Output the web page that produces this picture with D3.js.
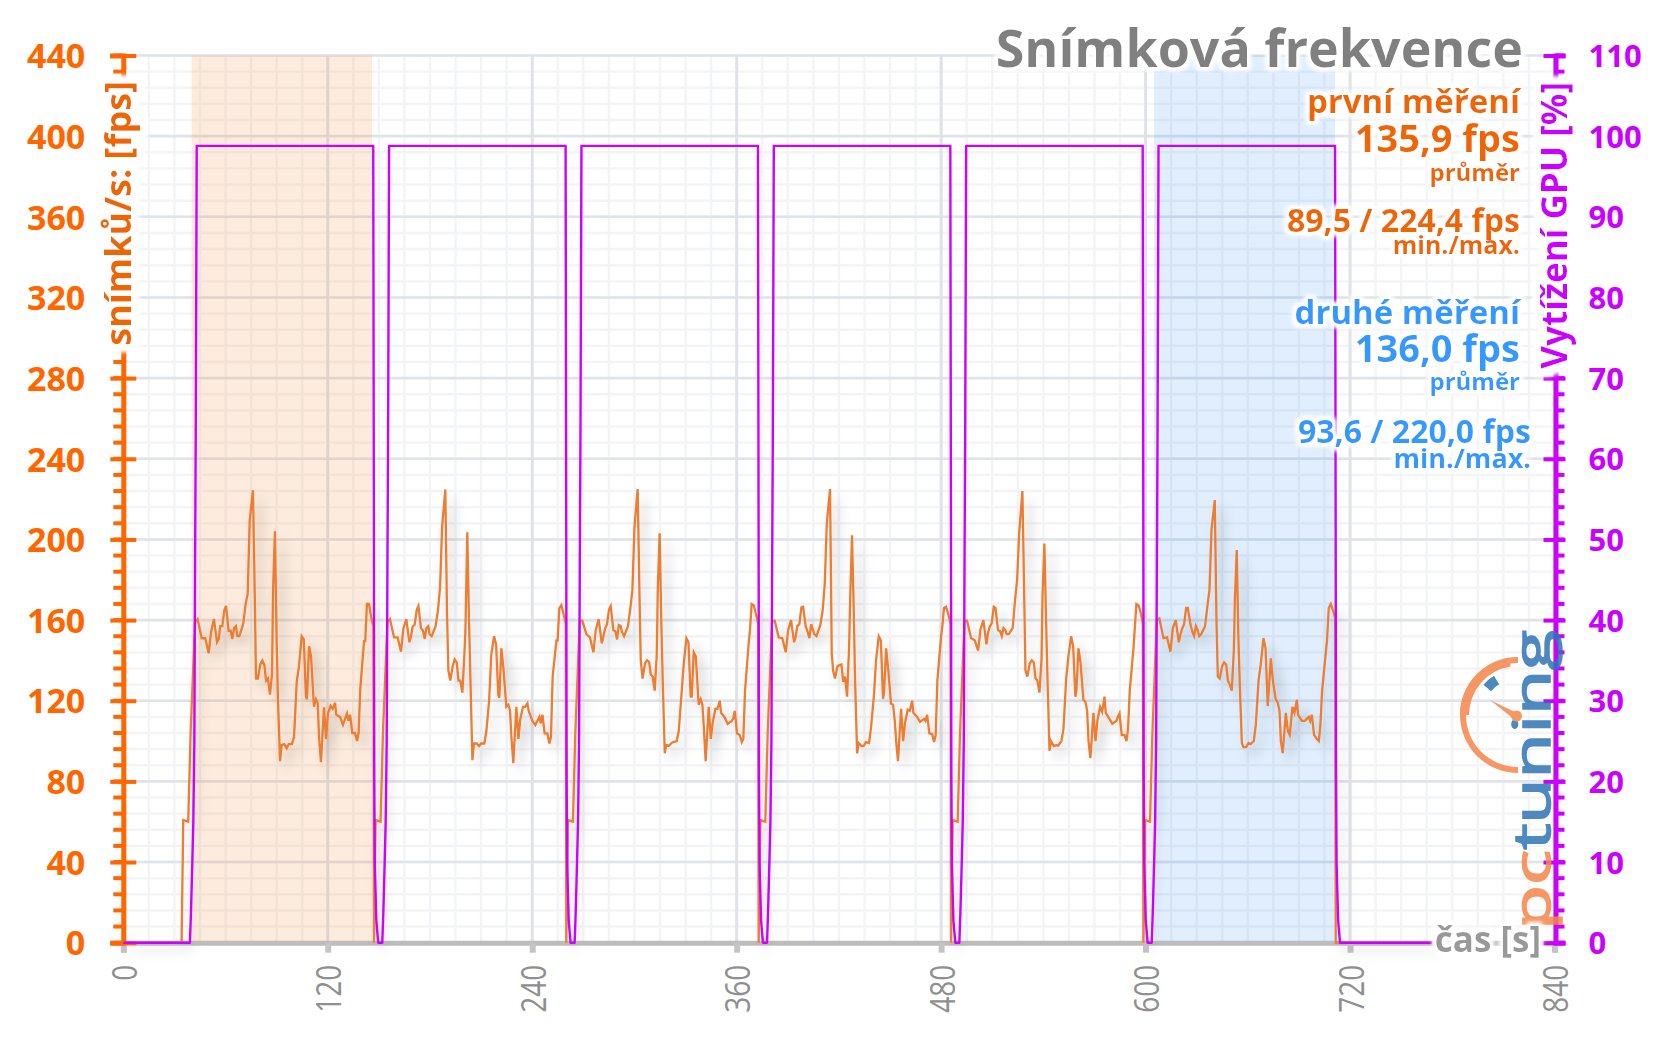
<!DOCTYPE html>
<meta charset="utf-8">
<title>Snímková frekvence</title>
<style>
    html, body { margin: 0; background: #fff; }
    svg { display: block; }
    text { font-family: "Open Sans", sans-serif; }
</style>
<svg width="1656" height="1044"></svg>
<script src="https://cdnjs.cloudflare.com/ajax/libs/d3/7.9.0/d3.min.js"></script>
<script>
    // time of each fps reading inside the first run [s]
    const runTimes = [
        42.1, 43.6, 46.0, 48.1, 50.1, 51.5, 53.2, 55.0, 56.0, 56.9,
        58.1, 59.3, 60.3, 61.8, 63.0, 64.0, 65.0, 66.1, 66.9, 68.1,
        70.4, 71.8, 73.0, 74.2, 76.1, 77.1, 77.9, 79.0, 80.4, 81.6,
        82.8, 83.8, 84.9, 86.1, 87.3, 87.9, 89.0, 90.0, 90.8, 92.0,
        92.9, 94.5, 95.9, 97.1, 99.0, 100.2, 101.8, 103.1, 104.7, 105.9,
        107.2, 107.8, 109.0, 110.2, 111.9, 113.1, 114.1, 114.9, 116.0, 117.8,
        119.0, 120.1, 121.7, 122.9, 124.3, 125.0, 127.2, 128.9, 131.3, 132.1,
        133.1, 134.4, 136.0, 137.2, 138.1, 139.1, 141.3, 142.0, 143.0, 144.2,
        145.8, 146.8
    ];
    const fpsRun1 = [
        159, 160.5, 151, 151, 143.5, 154, 160.5, 149, 150.5, 157,
        157, 165, 167, 154.7, 154.7, 150.6, 156, 157, 152, 152,
        158, 168, 173, 209.6, 224.4, 175, 131, 131, 138, 140,
        137.7, 130, 131, 123, 133.5, 175, 204, 150, 120, 90,
        98, 98.5, 96.4, 98.5, 98.5, 102, 129.5, 137, 152, 150.6,
        122, 120.7, 147, 142, 117, 120.7, 118.7, 102, 89.5, 116.7,
        101, 113.7, 117.5, 116, 119, 113, 112, 108, 113.7, 110,
        113, 104, 104, 100, 104, 126, 149.6, 149.6, 168, 168,
        160, 157
    ];
    const fpsRun2 = [
        159, 160.5, 151.4, 151.4, 144.3, 156, 160.5, 149, 152, 156.7,
        157.7, 165, 167, 156, 154.7, 150.6, 156, 157, 153, 152,
        157, 165, 176, 206, 224.8, 163, 135, 130, 137, 140.5,
        139, 130, 130, 124, 143, 155, 203.6, 160, 132, 90.5,
        98.8, 98.8, 97.5, 98.8, 98.8, 105, 120, 143, 152, 148,
        122.8, 121.5, 146, 136, 117, 118, 115, 102, 89, 117,
        101, 111, 117, 117, 118.7, 115, 110, 108, 112, 108.8,
        113, 103.8, 103.8, 98.8, 102, 132, 149.8, 149.8, 165.8, 167.4,
        162, 158
    ];
    const fpsRun3 = [
        159.7, 159.7, 153, 151.4, 144, 155, 160.5, 148.4, 152, 155.5,
        158, 165.3, 167, 155, 154.5, 150.4, 157.5, 157, 154, 152,
        157, 165.8, 175, 206, 225, 175, 140, 131, 138.5, 140,
        139.3, 133, 132, 125, 143, 175, 203, 158, 130, 94,
        98, 97.7, 99, 99.5, 100, 105, 123, 138, 151, 149,
        122, 122, 144, 142, 118, 120.8, 118, 107, 90, 117,
        101, 109, 116, 116, 120, 114, 111.7, 108.5, 110, 111,
        115, 103.8, 103, 99.5, 101, 125, 149, 155, 168, 167.4,
        162, 158
    ];
    const fpsRun4 = [
        159.7, 159.7, 151.4, 151, 144, 155, 160, 149, 152, 157,
        158, 166.3, 166.6, 157, 154, 151, 158, 155, 153, 152,
        157.5, 165, 178, 208, 225, 143.5, 135, 131, 137, 137.7,
        138, 129.4, 132, 122, 146.8, 170, 202, 165, 130, 93.9,
        99, 97.5, 97.7, 99.5, 99, 107, 122, 140, 152, 150,
        121, 124, 146, 136, 118.5, 118, 110, 100, 90, 116,
        100, 109, 115.5, 115, 120, 114, 112, 109.5, 111, 110,
        113, 103.8, 103.5, 99.5, 103, 130, 152, 156.7, 166, 166.6,
        162, 158
    ];
    const fpsRun5 = [
        159.7, 159.7, 151, 150, 144.8, 155.5, 160, 148, 154, 156.5,
        158.5, 166.6, 166, 155, 154.5, 152, 156, 155, 153, 153,
        156, 170, 180, 203, 224, 175, 135, 132, 138.5, 140,
        139, 131, 130, 124, 140, 172, 198, 160, 132, 95.2,
        100, 97.5, 98, 97.7, 100, 106, 131, 142, 152, 147,
        122, 125, 146, 139, 120.5, 119.5, 115, 100, 91.5, 114,
        100, 110, 117, 114.5, 122, 114, 111, 108.5, 110, 112,
        113.7, 103, 103, 100, 106, 125, 146, 155, 168, 167.4,
        163, 158
    ];
    const fpsRun6 = [
        160, 160.8, 151, 151.4, 144.3, 156, 160, 149, 153, 155.5,
        158, 166, 166, 158, 154, 152, 157, 155, 152, 153,
        157, 167, 175, 205, 219.5, 160, 132, 131, 137, 139,
        138, 130, 128, 125, 145, 170, 194.7, 150, 128, 99,
        97, 97, 99, 98.5, 100, 108, 130, 138, 151, 146,
        117.4, 125, 141, 130, 120.7, 119, 115, 100, 94, 114,
        105, 103, 117, 114, 120.5, 113, 110, 110, 112, 110,
        113, 103, 101, 100, 108, 125, 144, 150, 166, 168,
        164, 161
    ];
    const fpsRuns = [fpsRun1, fpsRun2, fpsRun3, fpsRun4, fpsRun5, fpsRun6];

    // start-up of a run: fps climbs to 60, holds, then climbs again
    const leadInTimes = [34.2, 35.2, 38.1, 39.5];
    const leadInFps = [0, 60.8, 60, 104];

    const runPeriod = 112.9;
    const runIndex = [0, 1, 2, 3, 4, 5];
    const timeEnd = 768;

    // GPU load edges of the first run
    const gpuRiseTimes = [39.1, 39.7, 40.5, 41.1, 41.7, 42.1, 42.5, 43.1];
    const gpuRiseLoad = [0, 3.6, 9.9, 15, 25, 45.8, 62, 98.8];
    const gpuFallTimes = [146.7, 147.0, 147.3, 147.6, 148.5, 149.6];
    const gpuFallLoad = [98.8, 60, 21, 9.9, 2.8, 0];

    const shadeBands = [[40.1, 146], [605, 711.2]];
    const shadeFills = ["#f58a2e", "#3f97f0"];

    const fpsTicks = d3.range(0, 441, 40);
    const fpsMinor = d3.range(0, 441, 8);
    const gpuTicks = d3.range(0, 111, 10);
    const gpuMinor = d3.range(0, 111, 2);
    const timeTicks = d3.range(0, 841, 120);
    const timeMinor = d3.range(0, 841, 15);

    const svg = d3.select("svg");
    const orange = "#ff6600", textOrange = "#ee6600", purple = "#cc00ff", blue = "#3399ff";

    const x = d3.scaleLinear().domain([0, 840]).range([123.3, 1554.5]);
    const y = d3.scaleLinear().domain([0, 440]).range([942.7, 55.5]);
    const yGpu = d3.scaleLinear().domain([0, 110]).range([942.7, 55.5]);

    // filters: soft line shadow and white text halo
    const defs = svg.append("defs");
    const shadow = defs.append("filter").attr("id", "shadow")
        .attr("filterUnits", "userSpaceOnUse")
        .attr("x", 0).attr("y", 0).attr("width", 1656).attr("height", 1044);
    shadow.append("feDropShadow")
        .attr("dx", 7).attr("dy", 7).attr("stdDeviation", 6)
        .attr("flood-color", "#000").attr("flood-opacity", 0.2);

    function addHalo(id, radius, blur) {
        const halo = defs.append("filter").attr("id", id)
            .attr("filterUnits", "userSpaceOnUse")
            .attr("x", 0).attr("y", 0).attr("width", 1656).attr("height", 1044);
        halo.append("feMorphology").attr("in", "SourceAlpha").attr("operator", "dilate").attr("radius", radius).attr("result", "fat");
        halo.append("feGaussianBlur").attr("in", "fat").attr("stdDeviation", blur).attr("result", "soft");
        halo.append("feFlood").attr("flood-color", "#fff");
        halo.append("feComposite").attr("in2", "soft").attr("operator", "in").attr("result", "white");
        const merge = halo.append("feMerge");
        merge.append("feMergeNode").attr("in", "white");
        merge.append("feMergeNode").attr("in", "white");
        merge.append("feMergeNode").attr("in", "SourceGraphic");
    }
    addHalo("halo", 3, 2);
    addHalo("haloWide", 7, 2);

    // grid
    const grid = svg.append("g");
    grid.selectAll(".hminor").data(fpsMinor).join("line")
        .attr("x1", x(0)).attr("x2", x(840)).attr("y1", d => y(d)).attr("y2", d => y(d))
        .attr("stroke", "#f3f4f7").attr("stroke-width", 2.4);
    grid.selectAll(".vminor").data(timeMinor).join("line")
        .attr("y1", y(440)).attr("y2", y(0)).attr("x1", d => x(d)).attr("x2", d => x(d))
        .attr("stroke", "#f3f4f7").attr("stroke-width", 2.4);
    grid.selectAll(".hmajor").data(fpsTicks).join("line")
        .attr("x1", x(0)).attr("x2", x(840)).attr("y1", d => y(d)).attr("y2", d => y(d))
        .attr("stroke", "#dfe3ea").attr("stroke-width", 2.6);
    grid.selectAll(".vmajor").data(timeTicks).join("line")
        .attr("y1", y(440)).attr("y2", y(0)).attr("x1", d => x(d)).attr("x2", d => x(d))
        .attr("stroke", "#dfe2e9").attr("stroke-width", 3);

    // shaded measuring windows
    svg.append("g").selectAll("rect").data(shadeBands).join("rect")
        .attr("x", d => x(d[0])).attr("width", d => x(d[1]) - x(d[0]))
        .attr("y", y(440)).attr("height", y(0) - y(440))
        .attr("fill", (d, i) => shadeFills[i]).attr("fill-opacity", 0.16);

    // time axis
    const xAxis = svg.append("g")
        .attr("transform", `translate(0,${y(0)})`)
        .call(d3.axisBottom(x).tickValues(timeTicks).tickSize(10).tickFormat(d3.format("d")));
    xAxis.select(".domain").attr("stroke", "#bdbdbd").attr("stroke-width", 5);
    xAxis.selectAll("line").attr("stroke", "#c4c4c4").attr("stroke-width", 6);
    xAxis.selectAll("text")
        .attr("fill", "#8f8f8f").attr("font-size", 28).attr("y", 0).attr("dy", 0)
        .attr("text-anchor", "end")
        .attr("transform", "translate(13,22) rotate(-90) scale(1,1.22)");

    // fps axis
    const leftAxis = svg.append("g").attr("transform", `translate(${x(0)},0)`);
    leftAxis.selectAll(".minor").data(fpsMinor).join("line")
        .attr("x1", -10).attr("x2", 0).attr("y1", d => y(d)).attr("y2", d => y(d))
        .attr("stroke", orange).attr("stroke-width", 4);
    leftAxis.call(d3.axisLeft(y).tickValues(fpsTicks).tickSize(13));
    leftAxis.select(".domain").attr("stroke", orange).attr("stroke-width", 5);
    leftAxis.selectAll(".tick line").attr("stroke", orange).attr("stroke-width", 4).attr("x2", 13).attr("x1", -13);
    leftAxis.selectAll(".tick text")
        .attr("fill", orange).attr("font-size", 34).attr("font-weight", 700)
        .attr("x", -38).attr("dy", "0.36em");

    // GPU axis
    const rightAxis = svg.append("g").attr("transform", `translate(${x(840) + 1},0)`);
    rightAxis.selectAll(".minor").data(gpuMinor).join("line")
        .attr("x1", 0).attr("x2", 9).attr("y1", d => yGpu(d)).attr("y2", d => yGpu(d))
        .attr("stroke", purple).attr("stroke-width", 4);
    rightAxis.call(d3.axisRight(yGpu).tickValues(gpuTicks).tickSize(10));
    rightAxis.select(".domain").attr("stroke", purple).attr("stroke-width", 5);
    rightAxis.selectAll(".tick line").attr("stroke", purple).attr("stroke-width", 4).attr("x1", -12).attr("x2", 10);
    rightAxis.selectAll(".tick text")
        .attr("fill", purple).attr("font-size", 31).attr("font-weight", 700)
        .attr("x", 33).attr("dy", "0.36em");

    // fps series
    const fpsPoints = [[0, 0]];
    runIndex.forEach(r => {
        const shift = r * runPeriod;
        leadInTimes.forEach((t, i) => fpsPoints.push([t + shift, leadInFps[i]]));
        runTimes.forEach((t, i) => fpsPoints.push([t + shift, fpsRuns[r][i]]));
    });
    fpsPoints.push([runTimes[runTimes.length - 1] + 5 * runPeriod + 0.3, 0], [timeEnd, 0]);

    // GPU series
    const gpuPoints = [[0, 0]];
    runIndex.forEach(r => {
        const shift = r * runPeriod;
        gpuRiseTimes.forEach((t, i) => gpuPoints.push([t + shift, gpuRiseLoad[i]]));
        gpuFallTimes.forEach((t, i) => gpuPoints.push([t + shift, gpuFallLoad[i]]));
    });
    gpuPoints.push([timeEnd, 0]);

    svg.append("path").datum(fpsPoints)
        .attr("fill", "none").attr("stroke", "#ed7d31").attr("stroke-width", 2.3)
        .attr("filter", "url(#shadow)")
        .attr("d", d3.line().x(d => x(d[0])).y(d => y(d[1])));
    svg.append("path").datum(gpuPoints)
        .attr("fill", "none").attr("stroke", purple).attr("stroke-width", 2.4)
        .attr("stroke-linejoin", "round")
        .attr("d", d3.line().x(d => x(d[0])).y(d => yGpu(d[1])));

    // logo
    const logo = svg.append("g").attr("opacity", 0.85);
    logo.append("text")
        .attr("transform", "translate(1550,930) rotate(-90)")
        .attr("font-family", "DejaVu Sans").attr("font-weight", 400).attr("font-size", 52)
        .attr("textLength", 300).attr("lengthAdjust", "spacingAndGlyphs")
        .selectAll("tspan").data([["pc", "#f5854a"], ["tuning", "#2f75b5"]]).join("tspan")
        .attr("fill", d => d[1]).attr("stroke", d => d[1]).attr("stroke-width", 1.6).text(d => d[0]);
    const cx = 1518, cy = 715;
    logo.append("path")
        .attr("d", d3.arc().innerRadius(52).outerRadius(58).startAngle(-Math.PI).endAngle(0)())
        .attr("transform", `translate(${cx},${cy})`).attr("fill", "#f5854a");
    logo.append("path")
        .attr("d", d3.arc().innerRadius(49).outerRadius(58).startAngle(-Math.PI / 2).endAngle(-0.15)())
        .attr("transform", `translate(${cx},${cy})`).attr("fill", "#f5854a");
    logo.append("path")
        .attr("d", d3.arc().innerRadius(36).outerRadius(46).startAngle(-0.85).endAngle(-0.55)())
        .attr("transform", `translate(${cx},${cy})`).attr("fill", "#2f75b5");
    logo.append("circle").attr("cx", 1516.5).attr("cy", 716).attr("r", 5.5).attr("fill", "#f5854a");
    logo.append("path").attr("d", "M1490 700 L1519 714 L1515 720 Z").attr("fill", "#f5854a");

    // texts with halo
    const labels = svg.append("g").attr("filter", "url(#halo)");
    function put(str, px, py, size, fill) {
        return labels.append("text").attr("x", px).attr("y", py)
            .attr("text-anchor", "end").attr("font-size", size).attr("font-weight", 700)
            .attr("fill", fill).text(str);
    }
    put("Snímková frekvence", 1523, 67, 52, "#808080");
    put("první měření", 1520, 113, 33, textOrange);
    put("135,9 fps", 1520, 152, 38, textOrange);
    put("průměr", 1520, 181, 24, textOrange);
    put("89,5 / 224,4 fps", 1520, 232, 32, textOrange);
    put("min./max.", 1520, 254, 25, textOrange);
    put("druhé měření", 1520, 324, 33, blue);
    put("136,0 fps", 1520, 362, 38, blue);
    put("průměr", 1520, 390, 24, blue);
    put("93,6 / 220,0 fps", 1531, 443, 32, blue);
    put("min./max.", 1531, 468, 27, blue);
    put("čas [s]", 1541, 952, 35, "#999999");

    const rotatedLabels = svg.append("g").attr("filter", "url(#haloWide)");
    const rotated = (str, px, py, size, fill) => rotatedLabels.append("text")
        .attr("transform", `translate(${px},${py}) rotate(-90)`)
        .attr("text-anchor", "end").attr("font-size", size).attr("font-weight", 700)
        .attr("fill", fill).text(str);
    rotated("snímků/s: [fps]", 131, 81, 36, textOrange);
    rotated("Vytížení GPU [%]", 1567, 82, 35, purple);
</script>
